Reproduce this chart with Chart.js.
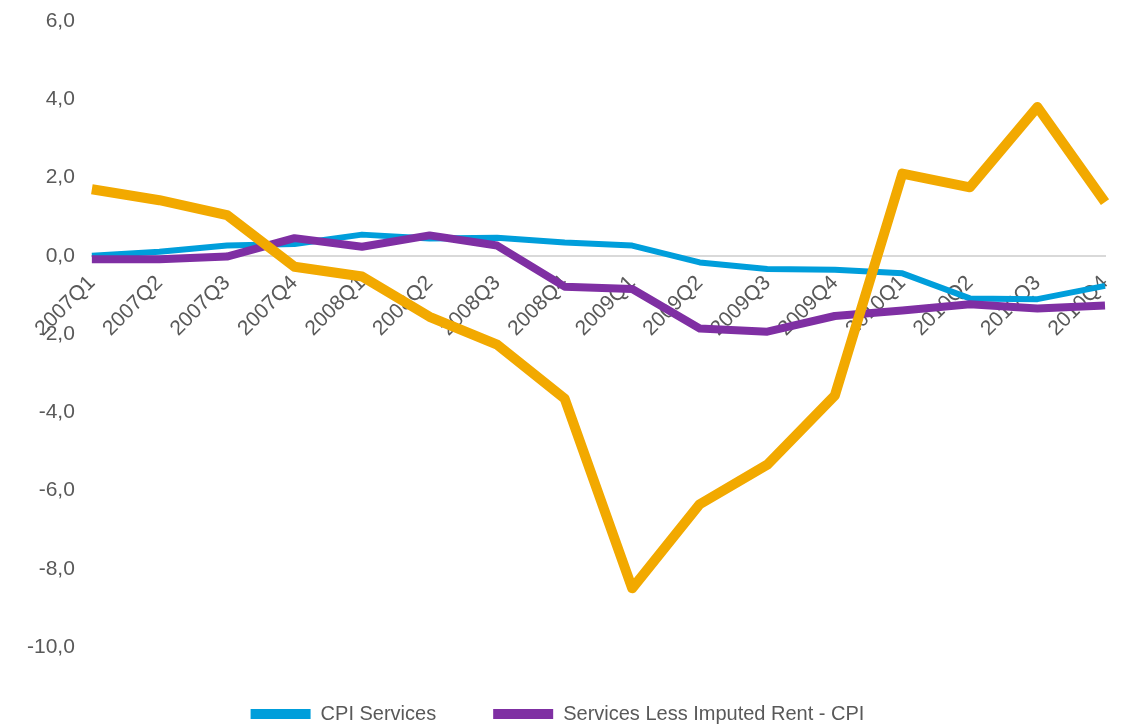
<!DOCTYPE html>
<html lang="en">
<head>
    <meta charset="UTF-8">
    <title>CPI Services</title>
    <script src="https://cdn.jsdelivr.net/npm/chart.js"></script>
    <style>
        body {
            margin: 0;
            background-color: #fff;
        }
        .wrap {
            width: 1127px;
            height: 726px;
        }
    </style>
</head>
<body>
    <div class="wrap">
        <canvas id="cpiChart"></canvas>
    </div>

    <script>
        const quarters = ['2007Q1', '2007Q2', '2007Q3', '2007Q4', '2008Q1', '2008Q2', '2008Q3', '2008Q4',
                          '2009Q1', '2009Q2', '2009Q3', '2009Q4', '2010Q1', '2010Q2', '2010Q3', '2010Q4'];
        const cpiServices = [0.0, 0.1, 0.26, 0.3, 0.54, 0.44, 0.46, 0.34, 0.26, -0.17, -0.34, -0.36, -0.45, -1.09, -1.11, -0.77];
        const servicesLessRent = [-0.09, -0.09, -0.02, 0.45, 0.23, 0.52, 0.26, -0.79, -0.85, -1.86, -1.94, -1.54, -1.4, -1.24, -1.35, -1.27];
        const thirdSeries = [1.7, 1.42, 1.04, -0.28, -0.53, -1.56, -2.27, -3.65, -8.5, -6.35, -5.34, -3.57, 2.1, 1.75, 3.8, 1.37];

        const textColor = '#595959';
        const fontFamily = "'Liberation Sans', Arial, sans-serif";

        new Chart(document.getElementById('cpiChart'), {
            type: 'line',
            data: {
                labels: quarters,
                datasets: [{
                    label: 'CPI Services',
                    data: cpiServices,
                    borderColor: '#009EDB',
                    backgroundColor: '#009EDB',
                    borderWidth: 6,
                    order: 3
                }, {
                    label: 'Services Less Imputed Rent - CPI',
                    data: servicesLessRent,
                    borderColor: '#7F2FA3',
                    backgroundColor: '#7F2FA3',
                    borderWidth: 8,
                    order: 2
                }, {
                    label: '',
                    data: thirdSeries,
                    borderColor: '#F2A900',
                    backgroundColor: '#F2A900',
                    borderWidth: 10,
                    order: 1
                }]
            },
            options: {
                responsive: true,
                maintainAspectRatio: false,
                animation: false,
                elements: {
                    point: { radius: 0 },
                    line: { tension: 0, borderJoinStyle: 'round' }
                },
                layout: {
                    padding: { left: 10, right: 22, top: 21, bottom: -8 }
                },
                plugins: {
                    tooltip: { enabled: false },
                    legend: {
                        position: 'bottom',
                        labels: {
                            // the orange line has no legend entry, and the boxes have no outline
                            generateLabels: chart => Chart.defaults.plugins.legend.labels.generateLabels(chart)
                                .filter(item => item.text !== '')
                                .sort((a, b) => a.datasetIndex - b.datasetIndex)
                                .map(item => ({ ...item, lineWidth: 0 })),
                            boxWidth: 60,
                            boxHeight: 10,
                            padding: 57,
                            color: textColor,
                            font: { family: fontFamily, size: 20, lineHeight: 1 }
                        }
                    }
                },
                scales: {
                    x: {
                        position: { y: 0 },
                        grid: { display: false, drawTicks: false },
                        border: { display: true, color: '#d9d9d9', width: 2 },
                        ticks: {
                            autoSkip: false,
                            minRotation: 45,
                            maxRotation: 45,
                            padding: 15,
                            color: textColor,
                            font: { family: fontFamily, size: 21 }
                        },
                        afterFit: scale => { scale.paddingLeft = 0; scale.paddingRight = 0; }
                    },
                    y: {
                        min: -10,
                        max: 6,
                        grid: { display: false, drawTicks: false },
                        border: { display: false },
                        ticks: {
                            stepSize: 2,
                            padding: 17,
                            color: textColor,
                            font: { family: fontFamily, size: 21 },
                            callback: v => v.toFixed(1).replace('.', ',')
                        },
                        afterFit: scale => { scale.paddingTop = 0; scale.paddingBottom = 0; }
                    }
                }
            }
        });
    </script>
</body>
</html>
